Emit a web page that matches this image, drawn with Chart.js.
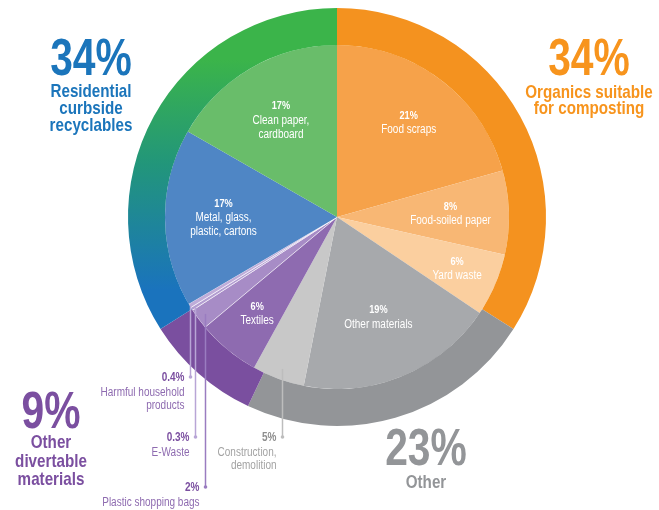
<!DOCTYPE html>
<html>
<head>
<meta charset="utf-8">
<script src="https://cdn.jsdelivr.net/npm/chart.js@4.4.0/dist/chart.umd.min.js"></script>
<style>
  body { margin: 0; background: #fff; }
  #wrap { width: 659px; height: 510px; }
</style>
</head>
<body>
<div id="wrap"><canvas id="waste-chart" width="659" height="510"></canvas></div>
<script>
// Outer ring: the four groups
const groupNames = ["Organics suitable\nfor composting", "Other", "Other\ndivertable\nmaterials", "Residential\ncurbside\nrecyclables"];
const groupValues = [34, 23, 9, 34];

// Inner pie: materials, clockwise from 12 o'clock
const materialNames = [
  "Food scraps", "Food-soiled paper", "Yard waste", "Other materials",
  "Construction,\ndemolition", "Textiles", "Plastic shopping bags", "E-Waste",
  "Harmful household\nproducts", "Metal, glass,\nplastic, cartons", "Clean paper,\ncardboard"
];
const materialValues = [21, 8, 6, 19, 5, 6, 2, 0.3, 0.4, 17, 17];

const groupColors = ["#f4921f", "#939598", "#7a4f9f", null];
const materialColors = [
  "#f6a24a", "#f8b774", "#fbcf9f", "#a7a9ac", "#c8c8c8", "#8e6bb0",
  "#a78cc6", "#b39dd1", "#bfacd9", "#4f86c5", "#69bd6a"
];
const groupTextColors = ["#f7941d", "#939598", "#7b4fa0", "#1b75bb"];

const FONT = '"Liberation Sans", Arial, sans-serif';
const NARROW = 0.8; // squeeze text horizontally, condensed look

// where the big group captions sit (baselines per line)
const groupCaptions = [
  { x: 589, lines: [75, 98, 114] },
  { x: 426, lines: [465, 488] },
  { x: 51, lines: [428, 448, 467, 485] },
  { x: 91, lines: [75, 97, 114, 131] }
];

// label distance from centre, as a fraction of the pie radius
const innerLabelRadius = [0.69, 0.66, 0.76, 0.63, null, 0.73, null, null, null, 0.66, 0.65];

// small slices labelled below the pie with a leader line
const callouts = {
  4: { r: 0.94, base: 441, color: "#a3a3a3", pctColor: "#8e8e8e", line: "#bdbdbd" },
  6: { r: 0.95, base: 491, color: "#8e6bb0", pctColor: "#7b4fa0", line: "#9a7cc0" },
  7: { r: 0.98, base: 441, color: "#8e6bb0", pctColor: "#7b4fa0", line: "#b8a5d6" },
  8: { r: 1.0, base: 381, color: "#8e6bb0", pctColor: "#7b4fa0", line: "#b8a5d6" }
};

function recyclablesGradient(context) {
  const chart = context.chart;
  const g = chart.ctx.createLinearGradient(0, 60, 0, 290);
  g.addColorStop(0, "#3bb44a");
  g.addColorStop(0.45, "#22967a");
  g.addColorStop(1, "#1a73bd");
  return g;
}

function drawText(ctx, text, x, y, font, align) {
  ctx.save();
  ctx.font = font;
  ctx.textAlign = align;
  ctx.translate(x, y);
  ctx.scale(NARROW, 1);
  ctx.fillText(text, 0, 0);
  ctx.restore();
}

const wasteLabels = {
  id: "wasteLabels",
  afterDatasetsDraw(chart) {
    const ctx = chart.ctx;
    const arcs = chart.getDatasetMeta(1).data;
    ctx.save();

    // labels inside the pie
    ctx.fillStyle = "#fff";
    ctx.textBaseline = "middle";
    arcs.forEach(function (arc, i) {
      const f = innerLabelRadius[i];
      if (f == null) return;
      const mid = (arc.startAngle + arc.endAngle) / 2;
      const r = arc.outerRadius * f;
      const x = arc.x + Math.cos(mid) * r;
      const y = arc.y + Math.sin(mid) * r;
      const lines = [materialValues[i] + "%"].concat(materialNames[i].split("\n"));
      let ly = y - (lines.length - 1) * 14 / 2;
      lines.forEach(function (t, k) {
        drawText(ctx, t, x, ly, (k === 0 ? "bold 11.5px " : "12.5px ") + FONT, "center");
        ly += 14;
      });
    });

    // leader lines + callout text
    ctx.textBaseline = "alphabetic";
    Object.keys(callouts).forEach(function (key) {
      const i = +key;
      const c = callouts[i];
      const arc = arcs[i];
      const mid = (arc.startAngle + arc.endAngle) / 2;
      const r = arc.outerRadius * c.r;
      const lx = Math.round(arc.x + Math.cos(mid) * r) + 0.5;
      const ly = arc.y + Math.sin(mid) * r;
      ctx.strokeStyle = c.line;
      ctx.lineWidth = 1.5;
      ctx.beginPath();
      ctx.moveTo(lx, ly);
      ctx.lineTo(lx, c.base - 4);
      ctx.stroke();
      ctx.fillStyle = c.line;
      ctx.beginPath();
      ctx.arc(lx, c.base - 4, 1.8, 0, Math.PI * 2);
      ctx.fill();

      const tx = lx - 6;
      ctx.fillStyle = c.pctColor;
      drawText(ctx, materialValues[i] + "%", tx, c.base, "bold 12.5px " + FONT, "right");
      ctx.fillStyle = c.color;
      materialNames[i].split("\n").forEach(function (t, k) {
        drawText(ctx, t, tx, c.base + 15 + k * 13, "12.5px " + FONT, "right");
      });
    });

    // big group captions
    groupCaptions.forEach(function (cap, i) {
      ctx.fillStyle = groupTextColors[i];
      drawText(ctx, groupValues[i] + "%", cap.x, cap.lines[0], "bold 51px " + FONT, "center");
      groupNames[i].split("\n").forEach(function (t, k) {
        drawText(ctx, t, cap.x, cap.lines[k + 1], "bold 19px " + FONT, "center");
      });
    });
    ctx.restore();
  }
};

const ctx = document.getElementById("waste-chart").getContext("2d");
new Chart(ctx, {
  type: "doughnut",
  data: {
    labels: materialNames,
    datasets: [
      {
        label: "Groups",
        data: groupValues,
        weight: 37,
        borderWidth: 0,
        backgroundColor: function (context) {
          return context.dataIndex === 3 ? recyclablesGradient(context) : groupColors[context.dataIndex];
        },
      },
      {
        label: "Materials",
        data: materialValues,
        weight: 172,
        backgroundColor: materialColors,
        borderColor: "rgba(255, 255, 255, 0.6)",
        borderWidth: [0, 0, 0, 0, 0, 0, 1, 1, 1, 0, 0],
      },
    ],
  },
  options: {
    responsive: false,
    animation: false,
    events: [],
    cutout: 0,
    hoverOffset: 0,
    layout: { padding: { top: 8, bottom: 84, left: 15, right: 0 } },
    plugins: {
      legend: { display: false },
      tooltip: { enabled: false },
    },
  },
  plugins: [wasteLabels],
});
</script>
</body>
</html>
